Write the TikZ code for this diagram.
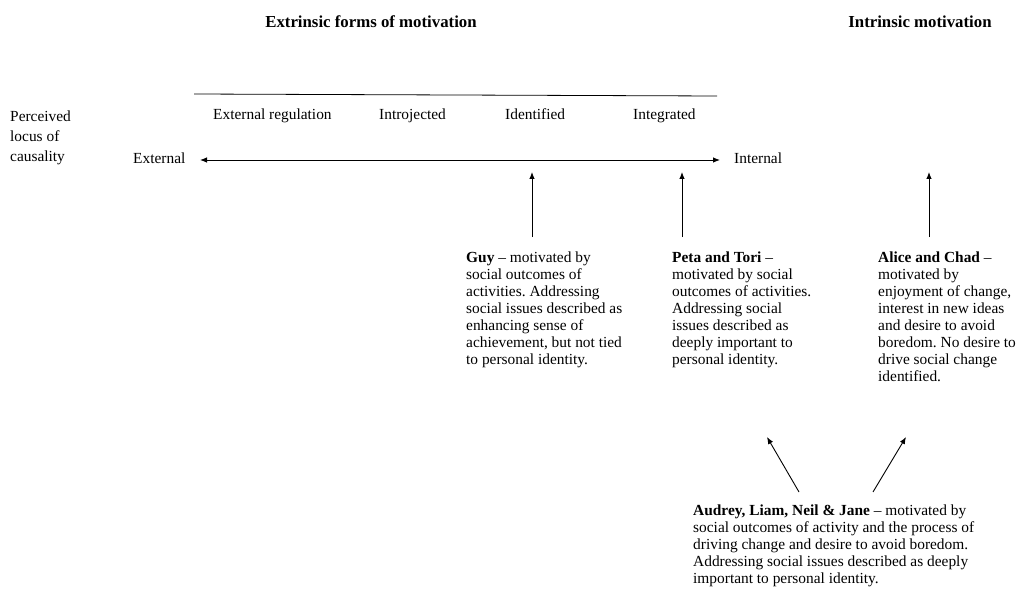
\documentclass[tikz,border=0pt]{standalone}
\usepackage{fontspec}
\setmainfont{Liberation Serif}
\usetikzlibrary{arrows.meta}
\begin{document}
\frenchspacing
\begin{tikzpicture}[x=1pt,y=-1pt,
  lbl/.style={inner sep=0pt,font=\fontsize{15.4}{16.9}\selectfont},
  blk/.style={lbl,align=left,anchor=north west},
  head/.style={inner sep=0pt,font=\fontsize{16.8}{18}\selectfont\bfseries},
  arr/.style={line width=0.9pt,-{Latex[length=7pt,width=5.5pt]}},
  darr/.style={line width=0.9pt,{Latex[length=7pt,width=5.5pt]}-{Latex[length=7pt,width=5.5pt]}}]
\useasboundingbox (0,0) rectangle (1019,596);
% headings
\node[head] (hext) at (371,22) {Extrinsic forms of motivation};
\node[head] (hint) at (920,22) {Intrinsic motivation};
% left label
\node[lbl,align=left,anchor=north west,font=\fontsize{15.4}{19.6}\selectfont] (plc) at (10,111) {Perceived\\locus of\\causality};
% top line
\coordinate (tl1) at (194,94);
\coordinate (tl2) at (717,96);
\draw[line width=0.8pt] (tl1) -- (tl2);
% category labels
\node[lbl,anchor=base west] (ereg) at (213,120) {External regulation};
\node[lbl,anchor=base west] (intro) at (379,120) {Introjected};
\node[lbl,anchor=base west] (ident) at (505,120) {Identified};
\node[lbl,anchor=base west] (integ) at (633,120) {Integrated};
% axis
\node[lbl,anchor=base west] (ext) at (133,164) {External};
\node[lbl,anchor=base west] (int) at (734,164) {Internal};
\coordinate (ax1) at (200,160);
\coordinate (ax2) at (720,160);
\draw[darr] (ax1) -- (ax2);
% blocks
\node[blk] (guy) at (466,252) {\textbf{Guy} -- motivated by\\social outcomes of\\activities. Addressing\\social issues described as\\enhancing sense of\\achievement, but not tied\\to personal identity.};
\node[blk] (peta) at (672,252) {\textbf{Peta and Tori} --\\motivated by social\\outcomes of activities.\\Addressing social\\issues described as\\deeply important to\\personal identity.};
\node[blk] (alice) at (878,252) {\textbf{Alice and Chad} --\\motivated by\\enjoyment of change,\\interest in new ideas\\and desire to avoid\\boredom. No desire to\\drive social change\\identified.};
\node[blk] (aud) at (693,505) {\textbf{Audrey, Liam, Neil \& Jane} -- motivated by\\social outcomes of activity and the process of\\driving change and desire to avoid boredom.\\Addressing social issues described as deeply\\important to personal identity.};
% vertical arrows
\coordinate (g1) at (532,237); \coordinate (g2) at (532,172);
\coordinate (p1) at (682,237); \coordinate (p2) at (682,172);
\coordinate (a1) at (929,237); \coordinate (a2) at (929,172);
\draw[arr] (g1) -- (g2);
\draw[arr] (p1) -- (p2);
\draw[arr] (a1) -- (a2);
% diagonal arrows
\coordinate (d1s) at (799,492); \coordinate (d1e) at (767,437);
\coordinate (d2s) at (873,492); \coordinate (d2e) at (906,437);
\draw[arr] (d1s) -- (d1e);
\draw[arr] (d2s) -- (d2e);
\end{tikzpicture}
\end{document}
